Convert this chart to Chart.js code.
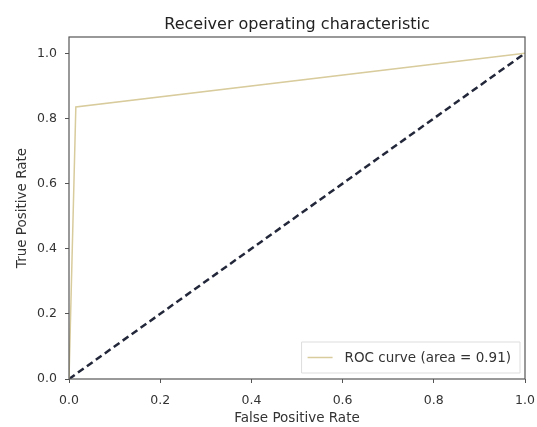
<!DOCTYPE html>
<html lang="en">
<head>
  <meta charset="UTF-8" />
  <title>Receiver operating characteristic</title>
  <script src="https://cdn.jsdelivr.net/npm/chart.js"></script>
  <style>
    html, body { margin: 0; padding: 0; background: #fff; }
    #wrap { width: 537px; height: 427px; }
  </style>
</head>
<body>
  <div id="wrap"><canvas id="rocChart" width="537" height="427"></canvas></div>

  <script>
    // ROC curve points
    const fpr = [0.0, 0.015, 1.0];
    const tpr = [0.0, 0.835, 1.0];
    // chance line
    const chanceX = [0.0, 1.0];
    const chanceY = [0.0, 1.0];
    const tickValues = [0.0, 0.2, 0.4, 0.6, 0.8, 1.0];
    const rocLabel = 'ROC curve (area = 0.91)';
    const chartTitle = 'Receiver operating characteristic';

    const font = 'DejaVu Sans';
    const textColor = '#333';
    const spineColor = '#555';

    // frame round the plot, title centred over the axes, legend box lower right
    const framePlugin = {
      id: 'frame',
      afterDraw(chart) {
        const { ctx, chartArea: a } = chart;
        ctx.save();
        ctx.strokeStyle = spineColor;
        ctx.lineWidth = 1.2;
        ctx.strokeRect(a.left, a.top, a.right - a.left, a.bottom - a.top);

        // title (matplotlib centres it over the axes, not the figure)
        ctx.fillStyle = '#222';
        ctx.font = '16px "' + font + '"';
        ctx.textAlign = 'center';
        ctx.textBaseline = 'alphabetic';
        ctx.fillText(chartTitle, (a.left + a.right) / 2, a.top - 8);

        // legend
        const ds = chart.data.datasets[0];
        ctx.textAlign = 'left';
        ctx.font = '13.5px "' + font + '"';
        const tw = ctx.measureText(ds.label).width;
        const w = tw + 52, h = 31;
        const x = a.right - 5 - w, y = a.bottom - 6 - h;
        ctx.fillStyle = 'rgba(255,255,255,0.85)';
        ctx.strokeStyle = '#ddd';
        ctx.lineWidth = 1;
        ctx.beginPath();
        ctx.rect(x, y, w, h);
        ctx.fill();
        ctx.stroke();
        ctx.strokeStyle = ds.borderColor;
        ctx.lineWidth = 1.5;
        ctx.beginPath();
        ctx.moveTo(x + 6, y + h / 2);
        ctx.lineTo(x + 31, y + h / 2);
        ctx.stroke();
        ctx.fillStyle = textColor;
        ctx.textBaseline = 'middle';
        ctx.fillText(ds.label, x + 43, y + h / 2 + 1);
        ctx.restore();
      }
    };

    const keepTicks = scale => {
      scale.ticks = tickValues.map(v => ({ value: v }));
    };

    new Chart(document.getElementById('rocChart').getContext('2d'), {
      type: 'scatter',
      data: {
        datasets: [
          {
            label: rocLabel,
            data: fpr.map((x, i) => ({ x: x, y: tpr[i] })),
            showLine: true,
            borderColor: '#d8cb9c',
            borderWidth: 1.5,
            pointRadius: 0,
            tension: 0
          },
          {
            label: 'chance',
            data: chanceX.map((x, i) => ({ x: x, y: chanceY[i] })),
            showLine: true,
            borderColor: '#23273a',
            borderWidth: 2.5,
            borderDash: [7, 4],
            pointRadius: 0,
            tension: 0
          }
        ]
      },
      options: {
        responsive: false,
        animation: false,
        layout: { padding: { left: 0, right: 12, top: 37, bottom: 0 } },
        plugins: {
          legend: { display: false },
          tooltip: { enabled: false },
          title: { display: false }
        },
        scales: {
          x: {
            type: 'linear',
            min: 0,
            max: 1,
            afterBuildTicks: keepTicks,
            grid: { display: true, drawOnChartArea: false, color: spineColor, tickLength: 4 },
            border: { display: false },
            ticks: {
              color: textColor,
              font: { family: font, size: 12.5 },
              padding: 10,
              maxRotation: 0,
              callback: v => v.toFixed(1)
            },
            title: {
              display: true,
              text: 'False Positive Rate',
              color: textColor,
              font: { family: font, size: 13.5 },
              padding: { top: -1, bottom: 0 }
            },
            afterFit: scale => {
              scale.height = 48;
              scale.paddingLeft = 0;
              scale.paddingRight = 0;
            }
          },
          y: {
            type: 'linear',
            min: 0,
            max: 1.05,
            afterBuildTicks: keepTicks,
            grid: { display: true, drawOnChartArea: false, color: spineColor, tickLength: 4 },
            border: { display: false },
            ticks: {
              color: textColor,
              font: { family: font, size: 12.5 },
              padding: 8,
              callback: v => v.toFixed(1)
            },
            title: {
              display: true,
              text: 'True Positive Rate',
              color: textColor,
              font: { family: font, size: 13.5 },
              padding: { top: 14, bottom: 6 }
            },
            afterFit: scale => {
              scale.width = 69;
              scale.paddingTop = 0;
              scale.paddingBottom = 0;
            }
          }
        }
      },
      plugins: [framePlugin]
    });
  </script>
</body>
</html>
